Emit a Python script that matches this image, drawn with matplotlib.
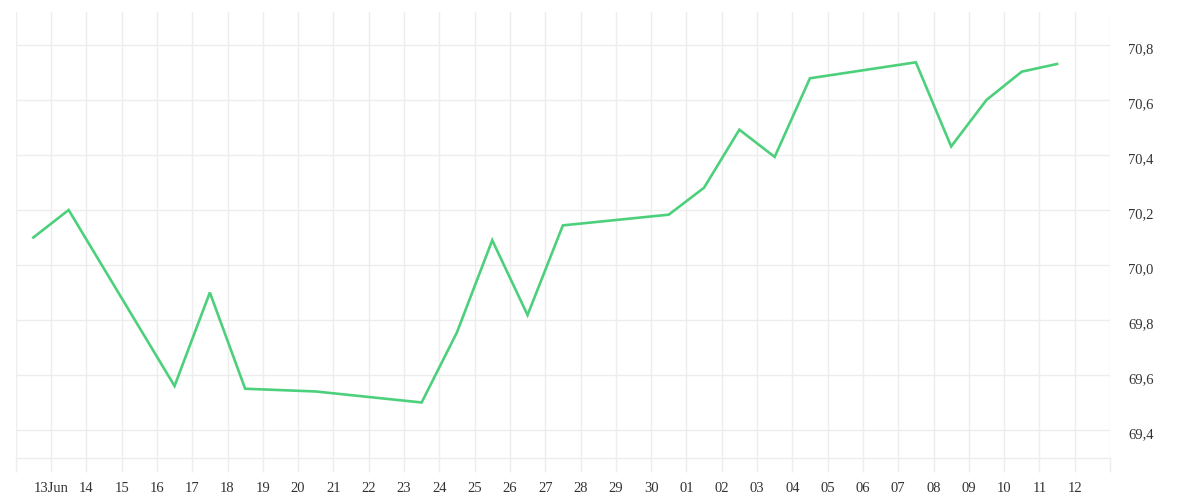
import matplotlib
matplotlib.use("Agg")
import matplotlib.pyplot as plt
import matplotlib.dates as mdates
import matplotlib.transforms as mtransforms
from datetime import datetime, timedelta

# ---- data ----
dates = ["2025-06-12 12:00", "2025-06-13 12:00", "2025-06-16 12:00", "2025-06-17 12:00",
         "2025-06-18 12:00", "2025-06-20 12:00", "2025-06-23 12:00", "2025-06-24 12:00",
         "2025-06-25 12:00", "2025-06-26 12:00", "2025-06-27 12:00", "2025-06-30 12:00",
         "2025-07-01 12:00", "2025-07-02 12:00", "2025-07-03 12:00", "2025-07-04 12:00",
         "2025-07-07 12:00", "2025-07-08 12:00", "2025-07-09 12:00", "2025-07-10 12:00",
         "2025-07-11 12:00"]
values = [70.10, 70.20, 69.56, 69.90, 69.55, 69.54, 69.50, 69.755, 70.09, 69.818,
          70.144, 70.183, 70.281, 70.492, 70.393, 70.679, 70.737, 70.431, 70.60, 70.703,
          70.731]

xtick_dates = ["2025-06-%02d" % d for d in range(12, 31)] + ["2025-07-%02d" % d for d in range(1, 14)]
xtick_labels = ["", "13Jun"] + [str(d) for d in range(14, 31)] + ["%02d" % d for d in range(1, 13)] + [""]
ytick_values = [69.4, 69.6, 69.8, 70.0, 70.2, 70.4, 70.6, 70.8]
ytick_labels = ["69,4", "69,6", "69,8", "70,0", "70,2", "70,4", "70,6", "70,8"]

# ---- style ----
grid_color = "#ededed"
line_color = "#4dd07b"
text_color = "#333333"
font = ["Liberation Serif", "DejaVu Serif"]

x = [datetime.strptime(d, "%Y-%m-%d %H:%M") for d in dates]
xt = [datetime.strptime(d, "%Y-%m-%d") for d in xtick_dates]

fig = plt.figure(figsize=(12, 5), dpi=100)
ax = fig.add_axes([15.7 / 1200, 1 - 458.3 / 500, (1110 - 15.7) / 1200, (458.3 - 12) / 500])

ax.plot(x, values, color=line_color, lw=1.9, solid_joinstyle="miter", zorder=3)

ax.set_xlim(xt[0], xt[-1])
ax.set_ylim(69.297, 70.92)

ax.set_xticks(xt)
ax.set_xticklabels(xtick_labels, fontfamily=font, fontsize=10.5, color=text_color)
ax.set_yticks(ytick_values)
ax.set_yticklabels(ytick_labels, fontfamily=font, fontsize=10.5, color=text_color)

ax.yaxis.tick_right()
ax.tick_params(axis="y", length=0, pad=13)
ax.tick_params(axis="x", length=10, width=1, color=grid_color, pad=7)

ax.grid(True, color=grid_color, lw=1)
ax.set_axisbelow(True)
for side in ["top", "left", "right"]:
    ax.spines[side].set_visible(False)
ax.spines["bottom"].set_color(grid_color)
ax.spines["bottom"].set_linewidth(1)

offset = mtransforms.ScaledTranslation(0, -2.5 / 72, fig.dpi_scale_trans)
for lab in ax.get_yticklabels():
    lab.set_transform(lab.get_transform() + offset)

fig.savefig("out.png", dpi=100, facecolor="white")
